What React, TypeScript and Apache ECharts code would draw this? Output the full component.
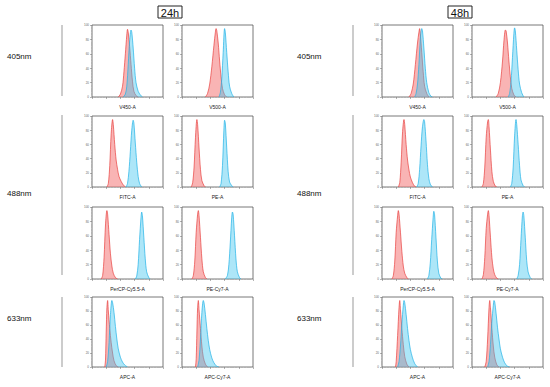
import React, { useEffect, useRef } from "react";
import * as echarts from "echarts";

// ---- data (x: fluorescence channel position 0-100, y: % of max count) ----
const timeLabels = ["24h", "48h"];
const laserLabels = ["405nm", "488nm", "633nm"];
const channelLabels = [
  "V450-A", "V500-A",
  "FITC-A", "PE-A",
  "PerCP-Cy5.5-A", "PE-Cy7-A",
  "APC-A", "APC-Cy7-A",
];
const yTickLabels = ["0", "20", "40", "60", "80", "100"];

// 24h – red (control), blue (stained)
const red24V450 = [[37,0],[40,4],[43,15],[45,35],[47,60],[49,86],[50,94],[51,90],[53,70],[55,45],[57,22],[59,8],[62,2],[65,0]];
const blue24V450 = [[44,0],[47,4],[49,15],[51,45],[53,78],[55,93],[56,90],[58,68],[60,40],[62,20],[65,8],[68,3],[71,0]];
const red24V500 = [[33,0],[36,5],[39,18],[42,42],[45,72],[47,90],[48,95],[49,92],[51,75],[53,50],[55,28],[57,12],[60,3],[63,0]];
const blue24V500 = [[52,0],[54,6],[56,25],[58,62],[60,95],[61,90],[63,62],[65,35],[67,15],[70,5],[73,0]];
const red24FITC = [[21,0],[23,5],[25,30],[27,75],[29,95],[30,88],[32,60],[34,38],[36,25],[38,15],[41,8],[44,3],[47,0]];
const blue24FITC = [[48,0],[50,5],[52,22],[54,50],[56,80],[58,94],[59,90],[61,62],[63,35],[65,15],[67,5],[70,0]];
const red24PE = [[13,0],[15,6],[17,28],[19,70],[21,95],[22,88],[24,55],[26,25],[28,9],[31,2],[33,0]];
const blue24PE = [[53,0],[55,5],[57,30],[59,80],[60,94],[61,90],[63,55],[65,22],[67,7],[70,2],[72,0]];
const red24PerCP = [[13,0],[15,5],[17,30],[19,75],[21,95],[22,90],[24,62],[26,35],[28,18],[30,8],[33,2],[36,0]];
const blue24PerCP = [[61,0],[63,4],[65,20],[67,55],[69,85],[70,93],[71,88],[73,58],[75,28],[77,10],[80,2],[82,0]];
const red24PECy7 = [[14,0],[16,5],[18,25],[20,65],[22,90],[23,95],[24,88],[26,58],[28,28],[30,10],[33,2],[35,0]];
const blue24PECy7 = [[61,0],[64,5],[66,20],[68,50],[70,85],[71,93],[72,90],[74,60],[76,28],[78,10],[81,2],[83,0]];
const red24APC = [[18,0],[19,10],[20,50],[21,85],[22,95],[23,80],[25,55],[27,35],[29,20],[31,9],[34,2],[37,0]];
const blue24APC = [[20,0],[22,8],[24,35],[26,75],[28,95],[29,92],[31,78],[33,58],[35,40],[37,26],[40,14],[43,7],[46,3],[50,0]];
const red24APCCy7 = [[19,0],[20,12],[21,50],[22,85],[23,95],[24,82],[26,55],[28,30],[30,14],[33,4],[36,0]];
const blue24APCCy7 = [[22,0],[24,10],[26,40],[28,78],[30,95],[31,92],[33,75],[35,55],[37,38],[39,25],[42,13],[45,6],[49,1],[52,0]];

// 48h
const red48V450 = [[38,0],[41,5],[44,18],[47,45],[50,75],[52,90],[53,95],[54,88],[56,62],[58,35],[60,15],[63,5],[66,0]];
const blue48V450 = [[46,0],[48,5],[50,18],[52,45],[54,80],[56,95],[57,92],[59,68],[61,40],[63,20],[66,6],[69,1],[71,0]];
const red48V500 = [[34,0],[37,5],[40,20],[43,50],[45,78],[47,93],[48,92],[50,75],[52,50],[54,28],[56,12],[59,3],[62,0]];
const blue48V500 = [[51,0],[53,5],[55,22],[57,55],[59,88],[60,96],[61,92],[63,65],[65,38],[67,18],[70,6],[73,0]];
const red48FITC = [[23,0],[25,6],[27,35],[29,78],[31,95],[32,88],[34,60],[36,38],[38,24],[40,14],[43,6],[46,1],[48,0]];
const blue48FITC = [[49,0],[51,5],[53,25],[55,58],[57,85],[59,95],[60,92],[62,65],[64,32],[66,12],[68,4],[71,0]];
const red48PE = [[14,0],[16,5],[18,28],[20,70],[22,92],[23,95],[24,85],[26,52],[28,22],[30,8],[33,1],[35,0]];
const blue48PE = [[54,0],[56,5],[58,28],[60,72],[62,95],[63,88],[65,60],[67,30],[69,10],[72,2],[74,0]];
const red48PerCP = [[14,0],[16,5],[18,25],[20,65],[22,88],[23,95],[24,90],[26,65],[28,38],[30,18],[32,8],[35,2],[37,0]];
const blue48PerCP = [[64,0],[66,5],[68,22],[70,55],[72,85],[73,94],[74,90],[76,58],[78,25],[80,8],[83,1],[85,0]];
const red48PECy7 = [[14,0],[16,6],[18,30],[20,70],[22,90],[23,95],[24,88],[26,58],[28,30],[30,14],[32,6],[35,1],[37,0]];
const blue48PECy7 = [[63,0],[65,5],[67,20],[69,55],[71,88],[72,93],[73,88],[75,58],[77,26],[79,10],[82,2],[84,0]];
const red48APC = [[19,0],[20,8],[22,45],[24,85],[25,95],[26,82],[28,55],[30,32],[32,15],[35,4],[38,0]];
const blue48APC = [[22,0],[24,8],[26,30],[28,62],[30,88],[31,95],[32,92],[34,75],[36,55],[38,38],[40,25],[43,13],[46,5],[50,0]];
const red48APCCy7 = [[18,0],[20,8],[22,40],[24,85],[25,95],[26,85],[28,55],[30,30],[32,14],[35,3],[38,0]];
const blue48APCCy7 = [[22,0],[24,8],[26,32],[28,65],[30,88],[31,95],[32,93],[34,76],[36,56],[38,40],[40,26],[43,14],[46,6],[50,1],[53,0]];

const red24 = [red24V450, red24V500, red24FITC, red24PE, red24PerCP, red24PECy7, red24APC, red24APCCy7];
const blue24 = [blue24V450, blue24V500, blue24FITC, blue24PE, blue24PerCP, blue24PECy7, blue24APC, blue24APCCy7];
const red48 = [red48V450, red48V500, red48FITC, red48PE, red48PerCP, red48PECy7, red48APC, red48APCCy7];
const blue48 = [blue48V450, blue48V500, blue48FITC, blue48PE, blue48PerCP, blue48PECy7, blue48APC, blue48APCCy7];

// ---- layout ----
const FONT = "Liberation Sans, Arial, sans-serif";
const colLefts = [[92, 182], [382, 472]];
const panelW = 71;
const rowTops = [25, 116, 207, 297];
const rowHeights = [72, 71, 72, 70];
const timeBoxX = [158, 448];
const laserTextX = [7, 297];
const dividerX = [62, 353];
const laserTextY = [56, 193, 318];
const dividerSpans = [[25, 96], [115, 275], [297, 367]];

export default function App() {
  const ref = useRef<HTMLDivElement>(null);
  useEffect(() => {
    if (!ref.current) return;
    const chart = echarts.init(ref.current, undefined, { renderer: "svg" });
    const grids: any[] = [];
    const xAxes: any[] = [];
    const yAxes: any[] = [];
    const series: any[] = [];
    const reds = [red24, red48];
    const blues = [blue24, blue48];
    let gi = 0;
    for (let t = 0; t < 2; t++) {
      for (let p = 0; p < 8; p++) {
        const row = Math.floor(p / 2);
        const col = p % 2;
        grids.push({
          left: colLefts[t][col],
          top: rowTops[row],
          width: panelW,
          height: rowHeights[row],
          show: true,
          borderColor: "#555",
          borderWidth: 0.8,
          backgroundColor: "transparent",
        });
        xAxes.push({
          type: "value",
          gridIndex: gi,
          min: 0,
          max: 100,
          interval: 20,
          axisLine: { show: false },
          axisTick: { show: true, length: 2, lineStyle: { color: "#666", width: 0.5 } },
          minorTick: { show: true, splitNumber: 5, length: 1, lineStyle: { color: "#888", width: 0.4 } },
          axisLabel: { show: false },
          splitLine: { show: false },
          name: channelLabels[p],
          nameLocation: "middle",
          nameGap: 7,
          nameTextStyle: { fontSize: 5, color: "#222", fontFamily: FONT },
        });
        yAxes.push({
          type: "value",
          gridIndex: gi,
          min: 0,
          max: 100,
          interval: 20,
          axisLine: { show: false },
          axisTick: { show: true, length: 2, lineStyle: { color: "#666", width: 0.5 } },
          minorTick: { show: true, splitNumber: 5, length: 1, lineStyle: { color: "#888", width: 0.4 } },
          axisLabel: {
            show: true,
            fontSize: 3,
            margin: 3,
            color: "#666",
            fontFamily: FONT,
            formatter: (v: number) => yTickLabels[Math.round(v / 20)] ?? "",
          },
          splitLine: { show: false },
        });
        series.push({
          type: "line",
          name: "control",
          xAxisIndex: gi,
          yAxisIndex: gi,
          data: reds[t][p],
          showSymbol: false,
          smooth: 0.3,
          lineStyle: { color: "#e8413f", width: 0.7 },
          areaStyle: { color: "rgba(244,112,112,0.75)" },
          z: 2,
        });
        series.push({
          type: "line",
          name: "stained",
          xAxisIndex: gi,
          yAxisIndex: gi,
          data: blues[t][p],
          showSymbol: false,
          smooth: 0.3,
          lineStyle: { color: "#1fb2e6", width: 0.7 },
          areaStyle: { color: "rgba(60,196,238,0.6)" },
          z: 3,
        });
        gi++;
      }
    }

    const graphic: any[] = [];
    for (let t = 0; t < 2; t++) {
      graphic.push({
        type: "rect",
        shape: { x: timeBoxX[t], y: 6, width: 24, height: 12 },
        style: { fill: "#fff", stroke: "#222", lineWidth: 1 },
      });
      graphic.push({
        type: "text",
        x: timeBoxX[t] + 12,
        y: 12.5,
        style: {
          text: timeLabels[t],
          fontSize: 11,
          fontFamily: FONT,
          fill: "#111",
          align: "center",
          verticalAlign: "middle",
        },
      });
      for (let r = 0; r < 3; r++) {
        graphic.push({
          type: "text",
          x: laserTextX[t],
          y: laserTextY[r],
          style: {
            text: laserLabels[r],
            fontSize: 8,
            fontFamily: FONT,
            fill: "#111",
            align: "left",
            verticalAlign: "middle",
          },
        });
        graphic.push({
          type: "line",
          shape: { x1: dividerX[t], y1: dividerSpans[r][0], x2: dividerX[t], y2: dividerSpans[r][1] },
          style: { stroke: "#999", lineWidth: 1 },
        });
      }
    }

    chart.setOption({
      animation: false,
      backgroundColor: "#fff",
      grid: grids,
      xAxis: xAxes,
      yAxis: yAxes,
      series,
      graphic,
    });
    return () => chart.dispose();
  }, []);
  return (
    <div
      ref={ref}
      style={{ position: "absolute", left: 0, top: 0, width: 550, height: 387 }}
    />
  );
}
